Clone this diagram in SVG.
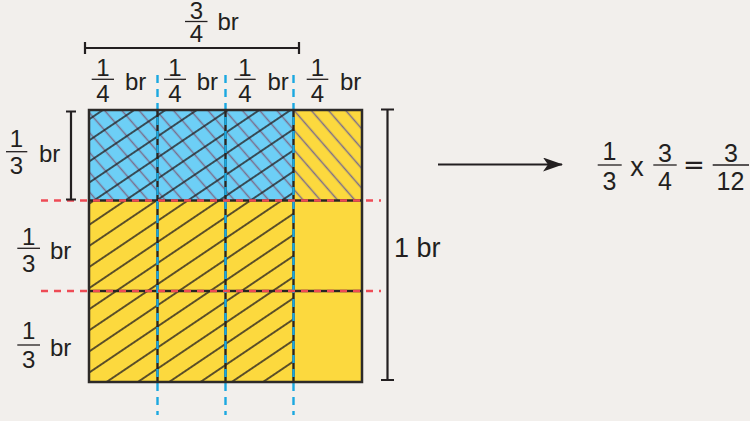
<svg xmlns="http://www.w3.org/2000/svg" width="750" height="421" viewBox="0 0 750 421">
<style>
  text { font-family: "Liberation Sans", Arial, sans-serif; fill: #231f20; }
  .f { font-size: 24px; text-anchor: middle; }
  .u { font-size: 24px; }
  .bar { stroke: #231f20; stroke-width: 1.3; }
  .dim { stroke: #231f20; stroke-width: 2.2; fill: none; }
  .blk { stroke: #2a2522; stroke-width: 2.4; }
  .blue { stroke: #1ba8e0; stroke-width: 2.4; stroke-dasharray: 8 6; fill: none; }
  .red { stroke: #ee4b55; stroke-width: 2.4; stroke-dasharray: 7 6; fill: none; }
</style>
<defs>
  <pattern id="hb" patternUnits="userSpaceOnUse" width="40" height="17.5" patternTransform="rotate(-34)">
    <path d="M0 8.75H40" stroke="#231f20" stroke-width="1.4"/>
  </pattern>
  <pattern id="hg" patternUnits="userSpaceOnUse" width="40" height="13" patternTransform="rotate(49)">
    <path d="M0 6.5H40" stroke="#7b6d8c" stroke-width="1.3"/>
  </pattern>
  <marker id="ah" viewBox="0 0 20 14" refX="19" refY="7" markerWidth="20" markerHeight="14" markerUnits="userSpaceOnUse" orient="auto">
    <path d="M0 0L20 7L0 14L5 7Z" fill="#231f20"/>
  </marker>
</defs>
<rect width="750" height="421" fill="#f2efec"/>

<g id="grid">
  <rect x="89" y="110" width="273" height="272" fill="#fcd93e"/>
  <rect x="89" y="110" width="204" height="90.5" fill="#6dcff6"/>
  <rect x="89" y="110" width="273" height="90.5" fill="url(#hg)"/>
  <rect x="89" y="110" width="204" height="272" fill="url(#hb)"/>
</g>

<g id="connectors">
  <line class="blk" x1="157.5" y1="110" x2="157.5" y2="382"/>
  <line class="blk" x1="225.5" y1="110" x2="225.5" y2="382"/>
  <line class="blk" x1="293.5" y1="110" x2="293.5" y2="382"/>
  <line class="blk" x1="89" y1="200.5" x2="362" y2="200.5"/>
  <line class="blk" x1="89" y1="291" x2="362" y2="291"/>
  <line class="blue" x1="157.5" y1="75" x2="157.5" y2="415"/>
  <line class="blue" x1="225.5" y1="75" x2="225.5" y2="415"/>
  <line class="blue" x1="293.5" y1="75" x2="293.5" y2="415"/>
  <line class="red" x1="41" y1="200.5" x2="381" y2="200.5"/>
  <line class="red" x1="41" y1="291" x2="381" y2="291"/>
  <rect x="89" y="110" width="273" height="272" fill="none" stroke="#2d2a28" stroke-width="2.5"/>
  <path class="dim" d="M85 48H299M85 42V54M299 42V54"/>
  <path class="dim" d="M71 111.5V199.5M66 111.5H76M66 199.5H76"/>
  <path class="dim" d="M387.5 109.5V380M381 109.5H394M381 380H394"/>
  <line x1="438" y1="164.5" x2="562" y2="164.5" stroke="#231f20" stroke-width="2" marker-end="url(#ah)"/>
</g>

<g id="label-top">
  <text class="f" x="196.5" y="19">3</text>
  <line class="bar" x1="185" y1="21.5" x2="207.5" y2="21.5"/>
  <text class="f" x="196.5" y="42">4</text>
  <text class="u" x="217.5" y="30">br</text>
</g>
<g id="label-q1">
  <text class="f" x="103" y="76">1</text>
  <line class="bar" x1="91.7" y1="79.3" x2="114" y2="79.3"/>
  <text class="f" x="103" y="101.7">4</text>
  <text class="u" x="125" y="90">br</text>
</g>
<g id="label-q2">
  <text class="f" x="175" y="76">1</text>
  <line class="bar" x1="164" y1="79.3" x2="186" y2="79.3"/>
  <text class="f" x="175" y="101.7">4</text>
  <text class="u" x="196.7" y="90">br</text>
</g>
<g id="label-q3">
  <text class="f" x="245" y="76">1</text>
  <line class="bar" x1="234.3" y1="79.3" x2="255.7" y2="79.3"/>
  <text class="f" x="245" y="101.7">4</text>
  <text class="u" x="267.4" y="90">br</text>
</g>
<g id="label-q4">
  <text class="f" x="317.5" y="76">1</text>
  <line class="bar" x1="306.7" y1="79.3" x2="328.3" y2="79.3"/>
  <text class="f" x="317.5" y="101.7">4</text>
  <text class="u" x="340" y="90">br</text>
</g>
<g id="label-r1">
  <text class="f" x="16.5" y="147">1</text>
  <line class="bar" x1="6" y1="151.7" x2="27.3" y2="151.7"/>
  <text class="f" x="16.5" y="173.5">3</text>
  <text class="u" x="39" y="161.7">br</text>
</g>
<g id="label-r2">
  <text class="f" x="28.7" y="245">1</text>
  <line class="bar" x1="17.3" y1="248.3" x2="40" y2="248.3"/>
  <text class="f" x="28.7" y="271.7">3</text>
  <text class="u" x="50" y="259.3">br</text>
</g>
<g id="label-r3">
  <text class="f" x="28.7" y="339.3">1</text>
  <line class="bar" x1="17.3" y1="345" x2="40" y2="345"/>
  <text class="f" x="28.7" y="368.3">3</text>
  <text class="u" x="50" y="355.7">br</text>
</g>
<g id="label-whole">
  <text x="394" y="257" style="font-size:27px">1 br</text>
</g>
<g id="equation">
  <text class="f" x="609.5" y="160" style="font-size:25px">1</text>
  <line class="bar" x1="597.7" y1="165" x2="621.7" y2="165"/>
  <text class="f" x="609.5" y="189.5" style="font-size:25px">3</text>
  <text x="637" y="175.5" style="font-size:27px;text-anchor:middle">x</text>
  <text class="f" x="665" y="161.5" style="font-size:25px">3</text>
  <line class="bar" x1="653.3" y1="165" x2="676.7" y2="165"/>
  <text class="f" x="665" y="190" style="font-size:25px">4</text>
  <text x="694" y="174" style="font-family:'DejaVu Sans',sans-serif;font-size:26px;text-anchor:middle">=</text>
  <text class="f" x="731" y="161.5" style="font-size:25px">3</text>
  <line class="bar" x1="712.7" y1="165" x2="749" y2="165"/>
  <text class="f" x="730.5" y="190" style="font-size:25px">12</text>
</g>
</svg>
